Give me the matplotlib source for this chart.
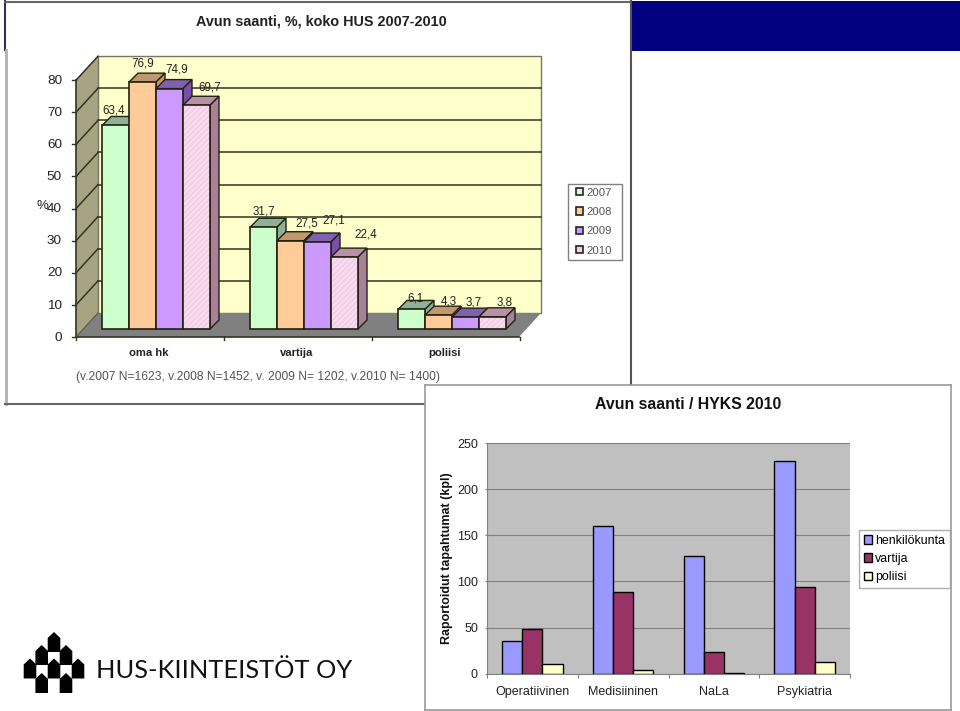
import matplotlib
matplotlib.use('Agg')
import numpy as np
import matplotlib.pyplot as plt
from matplotlib.patches import Polygon, Rectangle

W, H = 960, 711

# upper chart (3D look)
years = ['2007', '2008', '2009', '2010']
groups = ['oma hk', 'vartija', 'poliisi']
help_2007 = [63.4, 31.7, 6.1]
help_2008 = [76.9, 27.5, 4.3]
help_2009 = [74.9, 27.1, 3.7]
help_2010 = [69.7, 22.4, 3.8]
upper_yticks = [0, 10, 20, 30, 40, 50, 60, 70, 80]

# lower chart
units = ['Operatiivinen', 'Medisiininen', 'NaLa', 'Psykiatria']
henkilokunta = [35, 160, 128, 230]
vartija = [48, 88, 23, 94]
poliisi = [11, 4, 1, 13]
lower_yticks = [0, 50, 100, 150, 200, 250]

plt.rcParams['font.family'] = ['Liberation Sans', 'DejaVu Sans']
fig = plt.figure(figsize=(W / 100, H / 100), dpi=100, facecolor='white')


def axes_px(left, top, right, bottom, **kw):
    return fig.add_axes([left / W, 1 - bottom / H, (right - left) / W, (bottom - top) / H], **kw)


# page furniture in pixel coordinates
bg = axes_px(0, 0, W, H, zorder=0)
bg.set_xlim(0, W)
bg.set_ylim(H, 0)
bg.axis('off')
bg.add_patch(Rectangle((631, 1), 329, 50, fc='#000080', ec='none'))
bg.plot([5, 5], [1, 50], color='#30305a', lw=1.5)
bg.plot([5, 631], [1.5, 1.5], color='#666666', lw=1.5)
bg.plot([5.5, 5.5], [50, 404], color='#b0b0b0', lw=2)
bg.plot([5, 631], [404, 404], color='#666666', lw=1.5)
bg.plot([631, 631], [1, 404], color='#555555', lw=1.5)
bg.text(321, 22, 'Avun saanti, %, koko HUS 2007-2010', ha='center', va='center',
        fontsize=10.4, fontweight='bold', color='#222222')
bg.text(258.5, 377, '(v.2007 N=1623, v.2008 N=1452, v. 2009 N= 1202, v.2010 N= 1400)',
        ha='center', va='center', fontsize=8.65, color='#555555')
bg.text(42, 206, '%', ha='center', va='center', fontsize=9.5, color='#222222')

# logo
for cx, ytop in [(54, 632), (41.7, 645), (66, 645), (30, 658.5), (54, 658.5), (78, 658.5), (41.7, 673), (66, 673)]:
    bg.add_patch(Polygon([(cx - 6.3, ytop + 6), (cx, ytop), (cx + 6.3, ytop + 6), (cx + 6.3, ytop + 20), (cx - 6.3, ytop + 20)],
                         fc='black', ec='none'))
bg.text(224.5, 670, 'HUS-KIINTEISTÖT OY', ha='center', va='center', fontsize=18.3, family='Lato', color='#111111')

# upper chart: data units, 148 px per group and 3.21 px per percent
px_x, px_y = 148.0, 3.21
x0_px, y0_px = 156.0, 329.0
up = axes_px(60, 50, 560, 345, zorder=1)
up.set_xlim((60 - x0_px) / px_x, (560 - x0_px) / px_x)
up.set_ylim((y0_px - 345) / px_y, (y0_px - 50) / px_y)
up.axis('off')


def ux(px):
    return (px - x0_px) / px_x


front_y = -8 / px_y
back_y = 16 / px_y
ln = '#333322'
xl, xb, xr, xfr = ux(76), ux(98), ux(541), ux(519)
top_v = upper_yticks[-1]
up.add_patch(Polygon([(xl, front_y), (xl, front_y + top_v), (xb, back_y + top_v), (xb, back_y)],
                     fc='#a8a482', ec='none'))
up.add_patch(Polygon([(xb, back_y), (xb, back_y + top_v), (xr, back_y + top_v), (xr, back_y)],
                     fc='#ffffcc', ec='#777766', lw=1))
up.add_patch(Polygon([(xl, front_y), (xfr, front_y), (xr, back_y), (xb, back_y)], fc='#808080', ec='none'))
for v in upper_yticks[1:]:
    if v < top_v:
        up.plot([xb, xr], [back_y + v, back_y + v], color=ln, lw=1.1)
    up.plot([xl, xb], [front_y + v, back_y + v], color=ln, lw=1.1)
up.plot([xl, xl], [front_y, front_y + top_v], color=ln, lw=1.2)
up.plot([xl, xfr], [front_y, front_y], color=ln, lw=1.2)
up.plot([xl, xb], [front_y, back_y], color='#555544', lw=0.8)
for v in upper_yticks:
    up.plot([ux(72), xl], [front_y + v, front_y + v], color=ln, lw=1)
    bg.text(62, 337.7 - v * px_y, str(v), ha='right', va='center', fontsize=9.7, color='#222222')
for i in range(4):
    up.plot([xl + i, xl + i], [front_y, front_y - 1], color=ln, lw=1)

series = [help_2007, help_2008, help_2009, help_2010]
fronts = ['#ccffcc', '#ffcc99', '#cc99ff', '#f5cde8']
tops = ['#8fb296', '#c09870', '#8060b0', '#b890a8']
sides = ['#8fb296', '#c09870', '#7850a8', '#a88098']
bar_w = 27 / px_x
dep_x, dep_y = 9 / px_x, 9 / px_y
# label offsets from the bar centre and top, in pixels
label_dx = [[-2, 0, 4], [0, 16, 10], [7, 16, 8], [13, 21, 12]]
label_dy = [[15, 16, 11], [19, 17, 14], [19, 22, 15], [18, 23, 14]]
for g in range(len(groups)):
    for s, vals in enumerate(series):
        xc = g + (s - 1.5) * bar_w
        v = vals[g]
        x1, x2 = xc - bar_w / 2, xc + bar_w / 2
        up.add_patch(Polygon([(x1, v), (x1 + dep_x, v + dep_y), (x2 + dep_x, v + dep_y), (x2, v)],
                             fc=tops[s], ec='#222211', lw=1, zorder=3 + g * 4 + s))
        up.add_patch(Polygon([(x2, 0), (x2 + dep_x, dep_y), (x2 + dep_x, v + dep_y), (x2, v)],
                             fc=sides[s], ec='#222211', lw=1, zorder=3 + g * 4 + s))
        up.bar(xc, v, bar_w, color=fronts[s], edgecolor='#f8e4f2' if s == 3 else 'none',
               hatch='//////' if s == 3 else None, lw=0, zorder=3 + g * 4 + s)
        up.bar(xc, v, bar_w, fill=False, edgecolor='#222211', lw=1.2, zorder=3 + g * 4 + s)
        up.annotate(str(v).replace('.', ','), (xc, v), xytext=(label_dx[s][g], label_dy[s][g]),
                    textcoords='offset pixels', ha='center', va='center', fontsize=8.4,
                    color='#222222', zorder=30)
    up.text(g - 7 / px_x, (y0_px - 353) / px_y, groups[g], ha='center', va='center',
            fontsize=8.1, fontweight='bold', color='#222222', clip_on=False)

# legend box of the upper chart is drawn behind a frameless legend to get its odd padding
bg.add_patch(Rectangle((568, 184), 54, 76, fc='white', ec='#808080', lw=1))
up_handles = [Rectangle((0, 0), 1, 1, fc=fronts[i], ec='#222222', lw=1.2) for i in range(4)]
leg = fig.legend(up_handles, years, loc='upper left', bbox_to_anchor=(576 / W, 1 - 187.5 / H),
                 frameon=False, fontsize=8.1, labelcolor='#555555',
                 handlelength=0.6, handleheight=0.6, handletextpad=0.35,
                 labelspacing=0.84, borderpad=0, borderaxespad=0)
leg.set_zorder(2)

# lower chart
frame = axes_px(425, 385, 951, 710, zorder=3)
frame.set_xticks([])
frame.set_yticks([])
for sp in frame.spines.values():
    sp.set_color('#999999')
    sp.set_linewidth(1.2)
frame.text(0.5, 0.94, 'Avun saanti / HYKS 2010', transform=frame.transAxes, ha='center', va='center',
           fontsize=11.4, fontweight='bold', color='#111111')

ax = axes_px(487, 443, 850, 673.7, zorder=4)
ax.set_facecolor('#c0c0c0')
ax.set_xlim(-0.5, 3.5)
ax.set_ylim(0, 250)
ax.set_yticks(lower_yticks)
ax.yaxis.grid(True, color='#808080', lw=0.8)
ax.set_axisbelow(True)
ax.set_xticks(np.arange(-0.5, 4), minor=False)
ax.set_xticklabels([])
ax.tick_params(axis='x', color='#808080', length=3)
ax.tick_params(axis='y', color='#808080', length=1.5, labelsize=9, labelcolor='#222222', pad=5)
for name, sp in ax.spines.items():
    sp.set_color('#808080')
    sp.set_visible(name in ('left', 'bottom'))
bw = 20.2 / (363 / 4)
x = np.arange(4)
b1 = ax.bar(x - bw, henkilokunta, bw, color='#9999ff', edgecolor='black', lw=1, label='henkilökunta')
b2 = ax.bar(x, vartija, bw, color='#993366', edgecolor='black', lw=1, label='vartija')
b3 = ax.bar(x + bw, poliisi, bw, color='#ffffcc', edgecolor='black', lw=1, label='poliisi')
for i, name in enumerate(units):
    ax.annotate(name, (i, 0), xytext=(0, -18.5), textcoords='offset pixels', ha='center', va='center',
                fontsize=9, color='#222222', annotation_clip=False)
ax.set_ylabel('Raportoidut tapahtumat (kpl)', fontsize=9, fontweight='bold', color='#111111', labelpad=0)
ax.yaxis.set_label_coords(-0.093, 0.5)
leg2 = fig.legend(handles=[b1, b2, b3], loc='upper left', bbox_to_anchor=(859 / W, 1 - 530 / H),
                  frameon=True, fancybox=False, edgecolor='#999999', facecolor='white', fontsize=8.9,
                  handlelength=0.65, handleheight=0.7, handletextpad=0.22, labelspacing=0.5,
                  borderpad=0.4, borderaxespad=0)
leg2.set_zorder(5)

fig.savefig('out.png', dpi=100, facecolor='white')
